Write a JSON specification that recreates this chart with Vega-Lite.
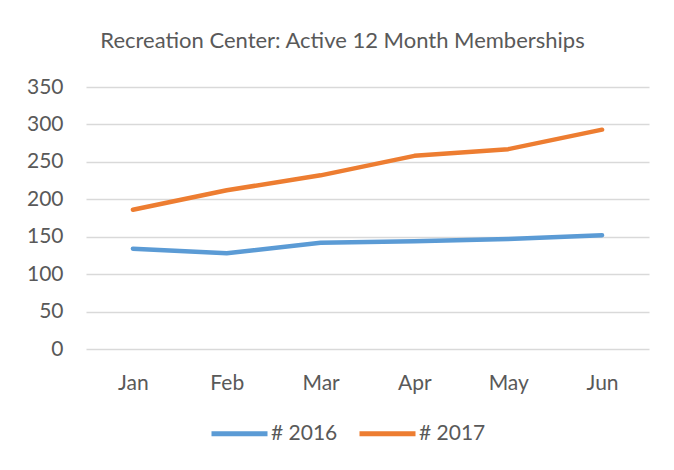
{
  "$schema": "https://vega.github.io/schema/vega-lite/v6.json",
  "autosize": "none",
  "width": 563,
  "height": 262,
  "padding": {"left": 86, "top": 87, "right": 25, "bottom": 121},
  "background": "white",
  "title": {
    "text": "Recreation Center: Active 12 Month Memberships",
    "anchor": "middle",
    "dx": -25,
    "offset": 23,
    "font": "Lato",
    "fontSize": 22,
    "fontWeight": "normal",
    "color": "#595959"
  },
  "data": {
    "values": [
      {"month": "Jan", "series": "# 2016", "value": 134},
      {"month": "Feb", "series": "# 2016", "value": 128},
      {"month": "Mar", "series": "# 2016", "value": 142},
      {"month": "Apr", "series": "# 2016", "value": 144},
      {"month": "May", "series": "# 2016", "value": 147},
      {"month": "Jun", "series": "# 2016", "value": 152},
      {"month": "Jan", "series": "# 2017", "value": 186},
      {"month": "Feb", "series": "# 2017", "value": 212},
      {"month": "Mar", "series": "# 2017", "value": 232},
      {"month": "Apr", "series": "# 2017", "value": 258},
      {"month": "May", "series": "# 2017", "value": 267},
      {"month": "Jun", "series": "# 2017", "value": 293}
    ]
  },
  "mark": {"type": "line", "strokeWidth": 4.5, "strokeCap": "round", "strokeJoin": "round"},
  "encoding": {
    "x": {
      "field": "month",
      "type": "ordinal",
      "sort": ["Jan", "Feb", "Mar", "Apr", "May", "Jun"],
      "scale": {"type": "point", "padding": 0.5},
      "axis": {
        "title": null,
        "labelAngle": 0,
        "ticks": false,
        "domain": false,
        "grid": false,
        "labelPadding": 23,
        "labelFont": "Lato",
        "labelFontSize": 21,
        "labelColor": "#595959"
      }
    },
    "y": {
      "field": "value",
      "type": "quantitative",
      "scale": {"domain": [0, 350], "nice": false},
      "axis": {
        "title": null,
        "values": [0, 50, 100, 150, 200, 250, 300, 350],
        "ticks": false,
        "domain": false,
        "grid": true,
        "gridColor": "#d9d9d9",
        "gridWidth": 1.5,
        "labelPadding": 23,
        "labelFont": "Lato",
        "labelFontSize": 21,
        "labelColor": "#595959"
      }
    },
    "color": {
      "field": "series",
      "type": "nominal",
      "scale": {"domain": ["# 2016", "# 2017"], "range": ["#5b9bd5", "#ed7d31"]},
      "legend": {
        "title": null,
        "orient": "none",
        "direction": "horizontal",
        "legendX": 123,
        "legendY": 316,
        "symbolType": "stroke",
        "symbolSize": 3136,
        "symbolStrokeWidth": 5,
        "labelOffset": 1,
        "columnPadding": 11,
        "labelFont": "Lato",
        "labelFontSize": 21,
        "labelColor": "#595959"
      }
    }
  },
  "config": {"view": {"stroke": null}}
}
